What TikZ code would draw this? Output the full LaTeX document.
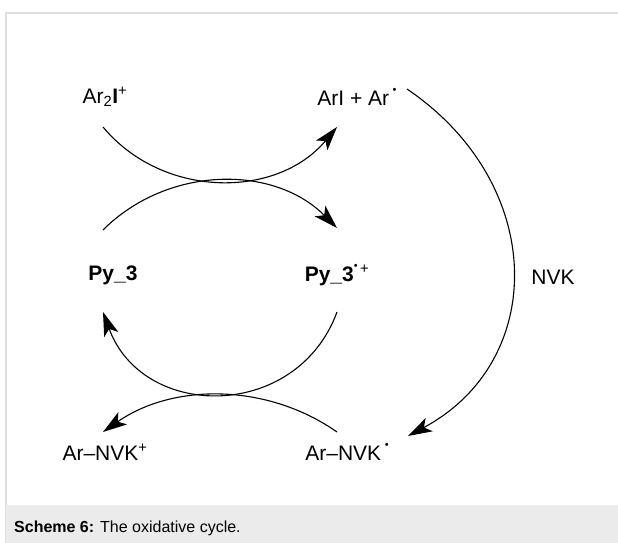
\documentclass[tikz,border=0pt]{standalone}
\usepackage{fontspec}
\setmainfont{Liberation Sans}
\usetikzlibrary{arrows.meta}
\newcommand{\rad}{\raisebox{0.55em}{\fontsize{11}{11}\selectfont\textbullet}}
\begin{document}
\begin{tikzpicture}[x=1pt,y=1pt,
  species/.style={font=\fontsize{21}{25}\selectfont,inner sep=0pt},
  tip/.tip={Stealth[length=24pt,width=15pt,inset=6pt]},
  cyc/.style={line width=1.1pt,-tip}]
 \useasboundingbox (0,0) rectangle (618,-543);
 % frame and caption band
 \draw[black!13,line width=1.5pt] (6,-543)--(6,-13)--(618,-13);
 \fill[black!8] (6,-505) rectangle (618,-543);
 \node[anchor=base west,inner sep=0pt,font=\fontsize{16}{19}\selectfont] (cap) at (14,-532)
  {\textbf{Scheme 6:} The oxidative cycle.};
 % species
 \node[species] (ar2i) at (105,-97) {Ar\textsubscript{2}\textbf{I}\textsuperscript{+}};
 \node[species] (ari) at (357,-97) {ArI + Ar\,\rad};
 \node[species] (py) at (113,-275) {\textbf{Py\_3}};
 \node[species] (pyr) at (337,-275) {\textbf{Py\_3}\rad\textsuperscript{\,+}};
 \node[species] (nvk) at (553,-277) {NVK};
 \node[species] (arnvkp) at (105,-452) {Ar–NVK\textsuperscript{+}};
 \node[species] (arnvkr) at (347,-452) {Ar–NVK\,\rad};
 % crossing arcs
 \draw[cyc] ([shift={(-2,-30)}]ar2i.center) .. controls +(60,-72) and +(-60,-72) .. ([shift={(-20,-30)}]ari.center);
 \draw[cyc] ([shift={(-10,45)}]py.center) .. controls +(64,64) and +(-64,64) .. ([shift={(0,47)}]pyr.center);
 \draw[cyc] ([shift={(0,-37)}]pyr.center) .. controls +(-40,-109) and +(40,-109) .. ([shift={(-10,-37)}]py.center);
 \draw[cyc] ([shift={(-10,20)}]arnvkr.center) .. controls +(-70,49) and +(70,49) .. ([shift={(-2,20)}]arnvkp.center);
 % NVK addition
 \draw[cyc] ([shift={(50,8)}]ari.center) .. controls +(140,-95) and +(140,75) .. ([shift={(61,16)}]arnvkr.center);
\end{tikzpicture}
\end{document}
